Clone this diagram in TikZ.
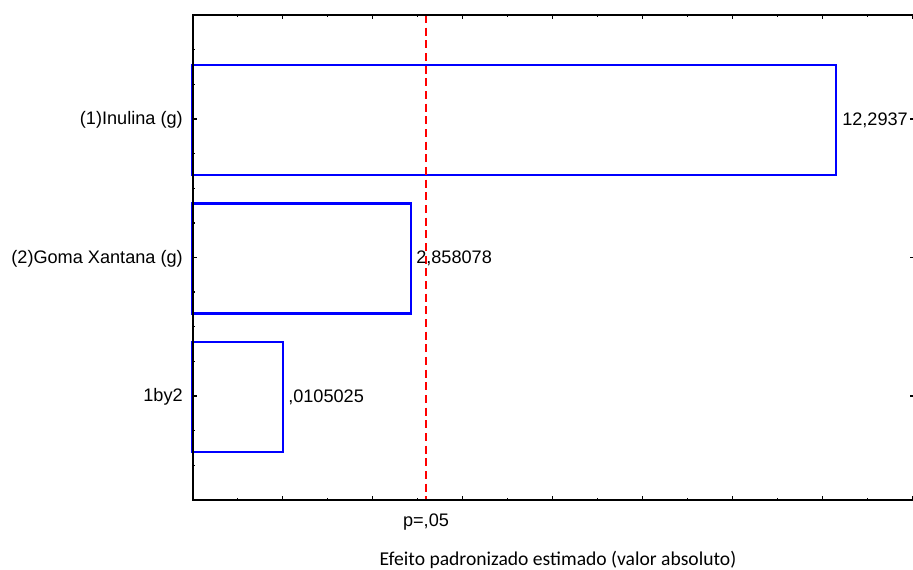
\documentclass[tikz,border=0pt]{standalone}
\usepackage{fontspec}
\setmainfont{Liberation Sans}
\newfontfamily\capfont{Carlito}
\definecolor{barblue}{RGB}{0,0,255}
\definecolor{critred}{RGB}{255,0,0}
\begin{document}
\begin{tikzpicture}[x=0.75pt,y=-0.75pt,
  axisline/.style={black, line width=1.5pt},
  tickline/.style={black, line width=1pt},
  barbox/.style={draw=barblue, line width=1.8pt},
  critline/.style={critred, line width=1.5pt, dash pattern=on 6pt off 3.5pt},
  catlabel/.style={anchor=east, inner sep=0pt, font=\fontsize{13.6}{15}\selectfont},
  vallabel/.style={anchor=west, inner sep=0pt, font=\fontsize{13.6}{15}\selectfont},
  caplabel/.style={inner sep=0pt, font=\capfont\fontsize{14.7}{16}\selectfont}]
\useasboundingbox (0,0) rectangle (913,569);
% bars
\draw[barbox] (192.5,65) rectangle (835.7,175);
\draw[barbox] (192.5,203.5) rectangle (411.1,313.5);
\draw[barbox] (192.5,342) rectangle (283,452);
% critical value line
\coordinate (ct) at (426,15);
\coordinate (cb) at (426,500);
\draw[critline] (ct) -- (cb);
% axes
\coordinate (tl) at (192.5,15);
\coordinate (bl) at (192.5,500);
\coordinate (tr) at (913,15);
\coordinate (br) at (913,500);
\draw[axisline] (tr) -- (tl) -- (bl) -- (br);
% x ticks
\foreach \i in {1,...,16}{
  \pgfmathsetmacro{\xx}{192.5+45*\i}
  \ifodd\i
    \draw[tickline] (\xx,500) -- (\xx,498);
    \draw[tickline] (\xx,15) -- (\xx,17);
  \else
    \draw[tickline] (\xx,500) -- (\xx,496);
    \draw[tickline] (\xx,15) -- (\xx,19);
  \fi
}
% y ticks
\foreach \k in {1,...,13}{
  \pgfmathsetmacro{\yy}{15+34.64*\k}
  \draw[tickline] (192.5,\yy) -- (194.5,\yy);
}
\foreach \k in {3,7,11}{
  \pgfmathsetmacro{\yy}{15+34.64*\k}
  \draw[tickline] (192.5,\yy) -- (196.5,\yy);
  \draw[tickline] (913,\yy) -- (910,\yy);
}
% category labels
\node[catlabel] (c1) at (183,120) {(1)Inulina (g)};
\node[catlabel] (c2) at (183,258.5) {(2)Goma Xantana (g)};
\node[catlabel] (c3) at (183,397) {1by2};
% value labels
\node[vallabel] (v1) at (842,120) {12,2937};
\node[vallabel] (v2) at (416,258.5) {2,858078};
\node[vallabel] (v3) at (288,397) {,0105025};
% axis labels
\node[inner sep=0pt, font=\fontsize{13.6}{15}\selectfont] (pl) at (426,522) {p=,05};
\node[caplabel] (xl) at (558,560) {Efeito padronizado estimado (valor absoluto)};
\end{tikzpicture}
\end{document}
